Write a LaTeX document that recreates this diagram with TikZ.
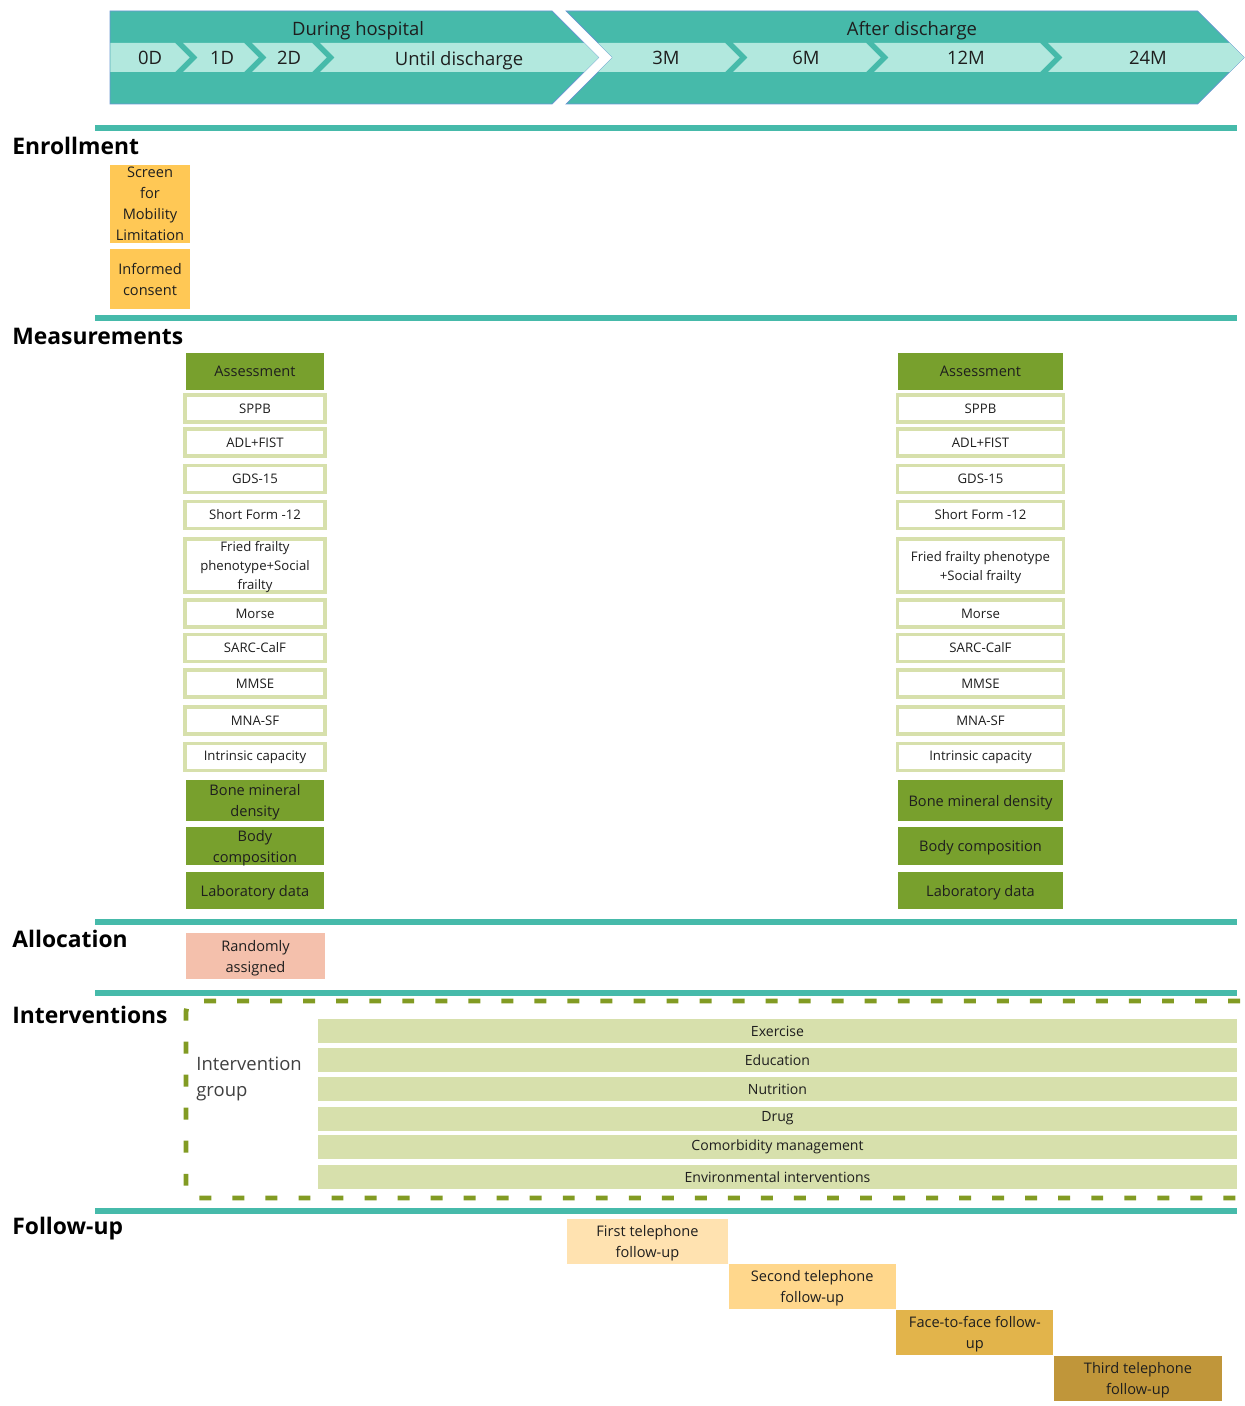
\documentclass[tikz,border=0pt]{standalone}
\usepackage{fontspec}
\setmainfont{Open Sans}
\usetikzlibrary{positioning}

\definecolor{tealdark}{RGB}{70,186,170}
\definecolor{teallight}{RGB}{178,232,222}
\definecolor{tealedge}{RGB}{105,150,210}
\definecolor{enrollyellow}{RGB}{255,200,85}
\definecolor{assessgreen}{RGB}{120,160,45}
\definecolor{olivelight}{RGB}{215,224,172}
\definecolor{olivedash}{RGB}{130,155,35}
\definecolor{randpink}{RGB}{244,192,172}
\definecolor{fuone}{RGB}{255,226,176}
\definecolor{futwo}{RGB}{255,215,140}
\definecolor{futhree}{RGB}{226,180,75}
\definecolor{fufour}{RGB}{192,150,58}
\definecolor{textdark}{RGB}{30,30,30}

\begin{document}
\begin{tikzpicture}[
    x=0.02cm, y=-0.02cm,
    font=\fontsize{8.3}{11.9}\selectfont, text=textdark,
    phase/.style={font=\fontsize{10.5}{12}\selectfont, inner sep=0pt},
    section/.style={anchor=west, inner sep=0pt, text=black,
        font=\fontsize{13}{15}\selectfont\bfseries},
    rule/.style={fill=tealdark},
    enrollbox/.style={fill=enrollyellow, minimum width=1.6cm, align=center,
        inner sep=1pt, text depth=0pt},
    greenbox/.style={fill=assessgreen, minimum width=#1, minimum height=0.74cm,
        align=center, inner sep=1pt, text depth=0pt},
    measbox/.style={draw=olivelight, line width=2pt, fill=white, minimum width=#1,
        minimum height=0.54cm, align=center, inner sep=1pt,
        font=\fontsize{7.5}{10.8}\selectfont},
    bar/.style={fill=olivelight, minimum width=18.38cm, minimum height=0.48cm,
        inner sep=0pt, font=\fontsize{8}{9}\selectfont},
    fubox/.style={fill=#1, minimum height=0.9cm, align=center, inner sep=1pt,
        text depth=0pt},
]
\useasboundingbox (0,0) rectangle (1244,1406);

% timeline header
\filldraw[fill=tealdark, draw=tealedge, line width=0.4pt]
    (110,11) -- (552,11) -- (598.5,57.5) -- (552,104) -- (110,104) -- cycle;
\filldraw[fill=tealdark, draw=tealedge, line width=0.4pt]
    (566,11) -- (1197.5,11) -- (1244,57.5) -- (1197.5,104) -- (566,104)
    -- (612.5,57.5) -- cycle;
\fill[teallight] (110.3,43) -- (175,43) -- (189.5,57.5) -- (175,72) -- (110.3,72) -- cycle;
\foreach \a/\b in {183/244, 252/312, 320/584, 598/725, 733/866, 874/1040, 1048/1229.5}
    \fill[teallight] (\a,43) -- (\b,43) -- ({\b+14.5},57.5) -- (\b,72) -- (\a,72)
        -- ({\a+14.5},57.5) -- cycle;

\node[phase] (during) at (358,30.5) {During hospital};
\node[phase] (after) at (912,30.5) {After discharge};
\node[phase] (d0) at (150,58) {0D};
\node[phase] (d1) at (222,58) {1D};
\node[phase] (d2) at (289,58) {2D};
\node[phase] (untildis) at (459,60.5) {Until discharge};
\node[phase] (m3) at (666,57.5) {3M};
\node[phase] (m6) at (806,57.5) {6M};
\node[phase] (m12) at (966,57.5) {12M};
\node[phase] (m24) at (1148,57.5) {24M};

% section rules
\fill[rule] (95,125) rectangle (1237,131);
\fill[rule] (95,315) rectangle (1237,321);
\fill[rule] (95,919) rectangle (1237,925);
\fill[rule] (95,990) rectangle (1237,996);
\fill[rule] (95,1208) rectangle (1237,1214);

\node[section] (enroll) at (12,146) {Enrollment};
\node[section] (measure) at (12,336) {Measurements};
\node[section] (alloc) at (12,939) {Allocation};
\node[section] (interv) at (12,1015) {Interventions};
\node[section] (follow) at (12,1229) {Follow-up};

% enrollment
\node[enrollbox, minimum height=1.58cm] (screen) at (150,204)
    {Screen\\for\\Mobility\\Limitation};
\node[enrollbox, minimum height=1.2cm] (consent) at (150,279) {Informed\\consent};

% measurements, baseline
\node[greenbox=2.76cm] (assessL) at (255,371.5) {Assessment};
\node[measbox=2.8cm] (sppbL) at (255,408.5) {SPPB};
\node[measbox=2.8cm] (adlL) at (255,442.5) {ADL+FIST};
\node[measbox=2.8cm] (gdsL) at (255,479) {GDS-15};
\node[measbox=2.8cm] (sfL) at (255,515) {Short Form -12};
\node[measbox=2.8cm, minimum height=1.06cm, text depth=0pt] (friedL) at (255,565.5)
    {Fried frailty\\phenotype+Social\\frailty};
\node[measbox=2.8cm] (morseL) at (255,613.5) {Morse};
\node[measbox=2.8cm] (sarcL) at (255,648) {SARC-CalF};
\node[measbox=2.8cm] (mmseL) at (255,683.5) {MMSE};
\node[measbox=2.8cm] (mnaL) at (255,720.5) {MNA-SF};
\node[measbox=2.8cm] (icL) at (255,757) {Intrinsic capacity};
\node[greenbox=2.76cm, minimum height=0.82cm] (bmdL) at (255,800.5)
    {Bone mineral\\density};
\node[greenbox=2.76cm, minimum height=0.76cm] (bodyL) at (255,846)
    {Body\\composition};
\node[greenbox=2.76cm] (labL) at (255,890.5) {Laboratory data};

% measurements, 24 months
\node[greenbox=3.3cm] (assessR) at (980.5,371.5) {Assessment};
\node[measbox=3.32cm] (sppbR) at (980.5,408.5) {SPPB};
\node[measbox=3.32cm] (adlR) at (980.5,442.5) {ADL+FIST};
\node[measbox=3.32cm] (gdsR) at (980.5,479) {GDS-15};
\node[measbox=3.32cm] (sfR) at (980.5,515) {Short Form -12};
\node[measbox=3.32cm, minimum height=1.06cm, text depth=0pt] (friedR) at (980.5,565.5)
    {Fried frailty phenotype\\+Social frailty};
\node[measbox=3.32cm] (morseR) at (980.5,613.5) {Morse};
\node[measbox=3.32cm] (sarcR) at (980.5,648) {SARC-CalF};
\node[measbox=3.32cm] (mmseR) at (980.5,683.5) {MMSE};
\node[measbox=3.32cm] (mnaR) at (980.5,720.5) {MNA-SF};
\node[measbox=3.32cm] (icR) at (980.5,757) {Intrinsic capacity};
\node[greenbox=3.3cm, minimum height=0.82cm] (bmdR) at (980.5,800.5)
    {Bone mineral density};
\node[greenbox=3.3cm, minimum height=0.76cm] (bodyR) at (980.5,846)
    {Body composition};
\node[greenbox=3.3cm] (labR) at (980.5,890.5) {Laboratory data};

% allocation
\node[fill=randpink, minimum width=2.78cm, minimum height=0.92cm, align=center,
    inner sep=1pt, text depth=0pt] (random) at (255.5,956) {Randomly\\assigned};

% interventions
\draw[olivedash, line width=2.8pt, dash pattern=on 6.8pt off 12pt, rounded corners=6pt]
    (1240,1001) -- (186,1001) -- (186,1198) -- (1240,1198);
\node[anchor=west, align=left, inner sep=0pt, text=black!75,
    font=\fontsize{10.5}{14.5}\selectfont] (intgroup) at (196,1079)
    {Intervention\\group};
\node[bar] (exercise) at (777.5,1031) {Exercise};
\node[bar] (education) at (777.5,1060) {Education};
\node[bar] (nutrition) at (777.5,1089) {Nutrition};
\node[bar] (drug) at (777.5,1118.5) {Drug};
\node[bar] (comorb) at (777.5,1147) {Comorbidity management};
\node[bar] (environ) at (777.5,1177) {Environmental interventions};

% follow-up steps
\node[fubox=fuone, minimum width=3.22cm] (fu1) at (647.5,1241)
    {First telephone\\follow-up};
\node[fubox=futwo, minimum width=3.34cm, below right=0pt and 0pt of fu1] (fu2)
    {Second telephone\\follow-up};
\node[fubox=futhree, minimum width=3.14cm, below right=0pt and 0pt of fu2] (fu3)
    {Face-to-face follow-\\up};
\node[fubox=fufour, minimum width=3.36cm, below right=0pt and 0pt of fu3] (fu4)
    {Third telephone\\follow-up};

\end{tikzpicture}
\end{document}
